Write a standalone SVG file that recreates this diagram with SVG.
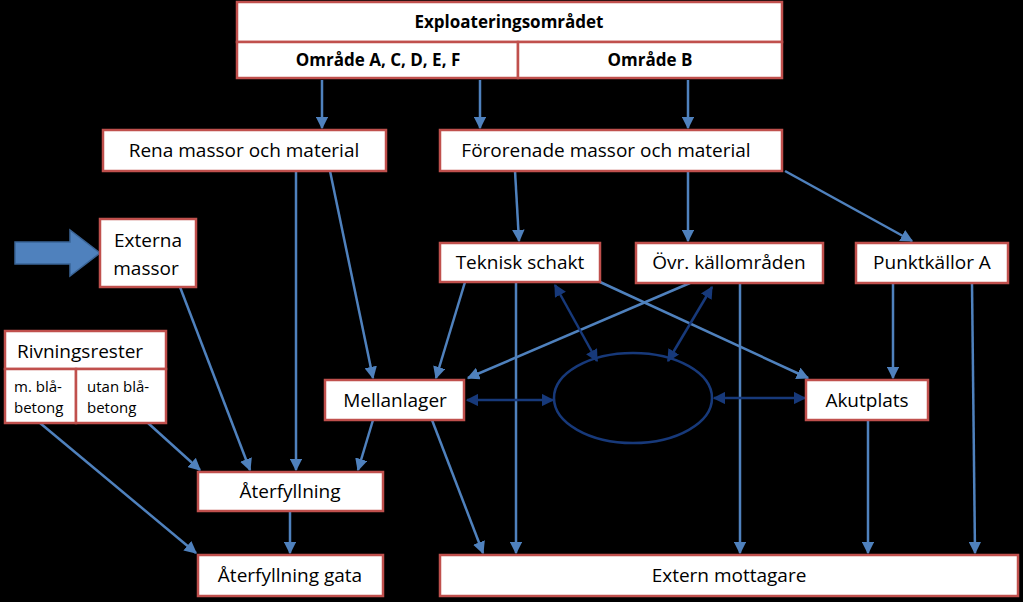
<svg xmlns="http://www.w3.org/2000/svg" width="1023" height="602" viewBox="0 0 1023 602">
<style>
.b{fill:#fff;stroke:#c0504d;stroke-width:2.5}
.t{font-family:"Open Sans","Liberation Sans",sans-serif;font-size:19px;fill:#000;text-anchor:middle}
.s{font-size:15px;text-anchor:start}
.h{font-weight:bold;font-size:17px}
.c{stroke:#4f81bd;stroke-width:2.5;fill:none;marker-end:url(#a)}
.d{stroke:#17397a;stroke-width:2.5;fill:none;marker-end:url(#da);marker-start:url(#ds)}
</style>
<defs>
<marker id="a" viewBox="0 0 10 10" refX="9" refY="5" markerWidth="5" markerHeight="5" orient="auto"><path d="M0,0L10,5L0,10z" fill="#4f81bd"/></marker>
<marker id="da" viewBox="0 0 10 10" refX="9" refY="5" markerWidth="5" markerHeight="5" orient="auto"><path d="M0,0L10,5L0,10z" fill="#17397a"/></marker>
<marker id="ds" viewBox="0 0 10 10" refX="1" refY="5" markerWidth="5" markerHeight="5" orient="auto"><path d="M10,0L0,5L10,10z" fill="#17397a"/></marker>
</defs>
<rect width="1023" height="602" fill="#000"/>
<g id="connectors">
<path class="c" d="M322,80V128"/>
<path class="c" d="M480,80V128"/>
<path class="c" d="M688,80V128"/>
<path class="c" d="M296,171V470"/>
<path class="c" d="M330,171L373,378"/>
<path class="c" d="M180,287L250,470"/>
<path class="c" d="M148,423L200,470"/>
<path class="c" d="M40,423L196,553"/>
<path class="c" d="M373,420L358,470"/>
<path class="c" d="M290,511V553"/>
<path class="c" d="M432,420L483,553"/>
<path class="c" d="M515,171L519,241"/>
<path class="c" d="M688,171V241"/>
<path class="c" d="M785,171L912,241"/>
<path class="c" d="M465,282L436,378"/>
<path class="c" d="M690,283L468,378"/>
<path class="c" d="M600,282L808,378"/>
<path class="c" d="M516,282V553"/>
<path class="c" d="M740,283V553"/>
<path class="c" d="M893,283V378"/>
<path class="c" d="M972,283L975,553"/>
<path class="c" d="M868,420V553"/>
<path class="d" d="M467,400H553"/>
<path class="d" d="M714,398H805"/>
<path class="d" d="M555,285L597,361"/>
<path class="d" d="M712,287L668,361"/>
<path d="M15,242H70V230L100,253L70,276V264H15z" fill="#4f81bd" stroke="#3a6496" stroke-width="1.5"/>
</g>
<g id="ellipse"><ellipse cx="633" cy="398" rx="79" ry="45" fill="none" stroke="#17397a" stroke-width="2.5"/></g>
<g id="top">
<rect class="b" x="237" y="2" width="545" height="40"/>
<rect class="b" x="237" y="42" width="281" height="36"/>
<rect class="b" x="518" y="42" width="264" height="36"/>
<text class="t h" x="509" y="28">Exploateringsområdet</text>
<text class="t h" x="378" y="66">Område A, C, D, E, F</text>
<text class="t h" x="650" y="66">Område B</text>
</g>
<g id="rena"><rect class="b" x="103" y="130" width="283" height="41"/><text class="t" x="244" y="157">Rena massor och material</text></g>
<g id="fororenade"><rect class="b" x="440" y="130" width="342" height="41"/><text class="t" x="606" y="157">Förorenade massor och material</text></g>
<g id="externa"><rect class="b" x="100" y="219" width="96" height="68"/><text class="t" x="148" y="247">Externa</text><text class="t" x="146" y="275">massor</text></g>
<g id="teknisk"><rect class="b" x="440" y="243" width="160" height="39"/><text class="t" x="520" y="269">Teknisk schakt</text></g>
<g id="ovr"><rect class="b" x="636" y="243" width="187" height="40"/><text class="t" x="729" y="269">Övr. källområden</text></g>
<g id="punkt"><rect class="b" x="856" y="243" width="152" height="40"/><text class="t" x="932" y="269">Punktkällor A</text></g>
<g id="rivning">
<rect class="b" x="5" y="331" width="161" height="38"/><text class="t" x="80" y="358">Rivningsrester</text>
<rect class="b" x="5" y="369" width="71" height="54"/><rect class="b" x="76" y="369" width="90" height="54"/>
<text class="t s" x="14" y="392">m. blå-</text><text class="t s" x="14" y="413">betong</text>
<text class="t s" x="87" y="392">utan blå-</text><text class="t s" x="87" y="413">betong</text>
</g>
<g id="mellanlager"><rect class="b" x="325" y="380" width="139" height="40"/><text class="t" x="395" y="407">Mellanlager</text></g>
<g id="akut"><rect class="b" x="806" y="380" width="122" height="40"/><text class="t" x="867" y="407">Akutplats</text></g>
<g id="aterfyllning"><rect class="b" x="198" y="472" width="185" height="39"/><text class="t" x="290" y="498">Återfyllning</text></g>
<g id="gata"><rect class="b" x="198" y="555" width="185" height="41"/><text class="t" x="290" y="582">Återfyllning gata</text></g>
<g id="extern"><rect class="b" x="440" y="555" width="578" height="41"/><text class="t" x="729" y="582">Extern mottagare</text></g>
</svg>
